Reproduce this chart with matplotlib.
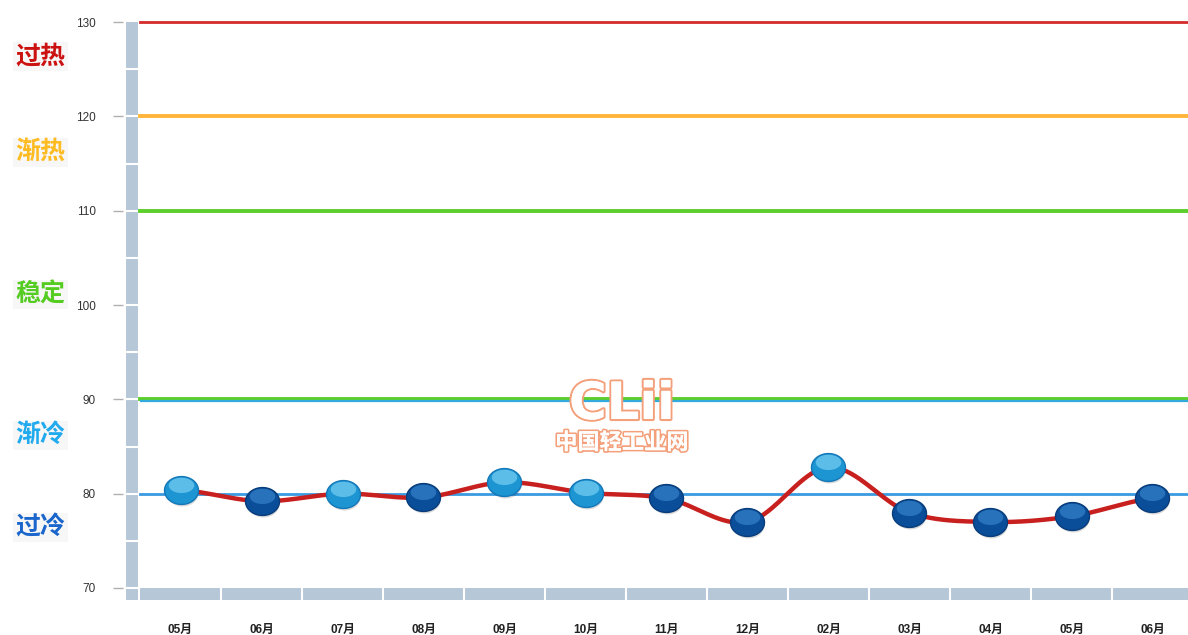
import numpy as np
import matplotlib
matplotlib.use("Agg")
import matplotlib.pyplot as plt
from matplotlib.path import Path
from matplotlib.patches import Rectangle
from matplotlib.transforms import blended_transform_factory
import matplotlib.patheffects as pe

plt.rcParams['font.family'] = ['Liberation Sans', 'Noto Sans CJK SC', 'DejaVu Sans']

# ---- data ----
months = ["05月", "06月", "07月", "08月", "09月", "10月", "11月", "12月",
          "02月", "03月", "04月", "05月", "06月"]
values = [80.4, 79.2, 80.0, 79.6, 81.2, 80.1, 79.5, 77.0, 82.8, 78.0, 77.0, 77.6, 79.5]
y_ticks = [70, 80, 90, 100, 110, 120, 130]
zone_lines = [130, 120, 110, 90, 80]
zone_line_colors = ["#d42a2a", "#ffb53a", "#5ccf2c", "#5ccf2c", "#3a9be0"]
zone_labels = ["过热", "渐热", "稳定", "渐冷", "过冷"]
zone_label_y = [126.3, 116.2, 101.1, 86.2, 76.4]
zone_label_colors = ["#cc1111", "#ffbb22", "#55cc22", "#22aaee", "#1a66cc"]
threshold = 80

W, H = 1188, 635
PT = 72.0 / 100.0  # points per pixel
fig = plt.figure(figsize=(W / 100, H / 100), dpi=100)
fig.patch.set_facecolor("white")
ax_l, ax_r, ax_b, ax_t = 140, 1188, 588, 22
ax = fig.add_axes([ax_l / W, (H - ax_b) / H, (ax_r - ax_l) / W, (ax_b - ax_t) / H])
ax.set_ylim(70, 130)
step = 81.0
ax.set_xlim(-0.5, -0.5 + (ax_r - ax_l) / step)
for s in ax.spines.values():
    s.set_visible(False)
ax.spines['left'].set_position(('outward', 17 * PT))

px_per_unit = (ax_b - ax_t) / 60.0
wall_h = 12 / px_per_unit

# ---- 3D-like wall (left) ----
bt = blended_transform_factory(ax.transAxes, ax.transData)
wx0 = (126 - ax_l) / (ax_r - ax_l)
ww = 12 / (ax_r - ax_l)
wall_col = "#b6c7d8"
ax.add_patch(Rectangle((wx0, 70 - wall_h), ww, 60 + wall_h, transform=bt,
                       facecolor=wall_col, edgecolor="none", clip_on=False, zorder=1))
for yv in np.arange(75, 130, 5).tolist() + [70]:
    ax.plot([wx0, wx0 + ww], [yv, yv], transform=bt, color="white", lw=1.5,
            clip_on=False, zorder=1.5)
# bottom bar
ax.add_patch(Rectangle((-0.5, 70 - wall_h), 14, wall_h, facecolor=wall_col,
                       edgecolor="none", clip_on=False, zorder=1))
for k in range(len(months)):
    ax.plot([k + 0.5, k + 0.5], [70 - wall_h, 70], color="white", lw=1.5,
            clip_on=False, zorder=1.5)

# ---- zone lines ----
for yv, c in zip(zone_lines, zone_line_colors):
    lw = 2.0 if yv in (130, 80) else 2.8
    ax.axhline(yv, color=c, lw=lw, zorder=2, clip_on=False)
ax.axhline(90 - 0.17, color="#33aadd", lw=1.6, zorder=2)

# ---- zone labels ----
for lab, yv, c in zip(zone_labels, zone_label_y, zone_label_colors):
    ax.text(-0.095, yv, lab, transform=bt, color=c, fontsize=18, fontweight='bold',
            family=['Noto Sans CJK SC'], ha='center', va='center', clip_on=False,
            bbox=dict(boxstyle='square,pad=0.1', facecolor='#f7f7f7', edgecolor='none'),
            zorder=5)

# ---- watermark ----
wm = ax.text(5.45, 89.4, "CLii", fontsize=37, fontweight='bold', family=['DejaVu Sans'],
             color="white", ha='center', va='center', zorder=3)
wm.set_path_effects([pe.withStroke(linewidth=3, foreground="#f4a07a"), pe.Normal()])
wm2 = ax.text(5.45, 85.4, "中国轻工业网", fontsize=16, fontweight='bold',
              family=['Noto Sans CJK SC'], color="white", ha='center', va='center', zorder=3)
wm2.set_path_effects([pe.withStroke(linewidth=2.5, foreground="#f4a07a"), pe.Normal()])

# ---- smooth line ----
xs = np.arange(len(values), dtype=float)
ys = np.array(values, dtype=float)
cx, cy = [], []
n = len(xs)
for i in range(n - 1):
    y0 = ys[i - 1] if i > 0 else ys[i]
    y3 = ys[i + 2] if i + 2 < n else ys[i + 1]
    m1 = (ys[i + 1] - y0) / 2.0
    m2 = (y3 - ys[i]) / 2.0
    t = np.linspace(0, 1, 40)
    h00 = 2 * t**3 - 3 * t**2 + 1
    h10 = t**3 - 2 * t**2 + t
    h01 = -2 * t**3 + 3 * t**2
    h11 = t**3 - t**2
    cx.extend(xs[i] + t)
    cy.extend(h00 * ys[i] + h10 * m1 + h01 * ys[i + 1] + h11 * m2)
ax.plot(cx, cy, color="#c8201e", lw=3.2, solid_capstyle='round', zorder=6)

# ---- glossy ellipse markers ----
th = np.linspace(0, 2 * np.pi, 60)
base_v = np.column_stack([np.cos(th), 0.82 * np.sin(th)])
base_path = Path(base_v, closed=True)
hl_v = np.column_stack([0.75 * np.cos(th), 0.30 + 0.45 * np.sin(th)])
hl_path = Path(hl_v, closed=True)
hl_scale = np.max(np.abs(hl_v))
sh_v = np.column_stack([0.06 + 0.95 * np.cos(th), -0.14 + 0.8 * np.sin(th)])
sh_path = Path(sh_v, closed=True)
sh_scale = np.max(np.abs(sh_v))
ms = 34 * PT

light = [v >= threshold for v in values]
for is_light in (True, False):
    xi = [i for i in range(n) if light[i] == is_light]
    yi = [values[i] for i in xi]
    if not xi:
        continue
    if is_light:
        base, edge, hl = "#1c95d2", "#1478b8", "#6cc8ee"
    else:
        base, edge, hl = "#0a4e9a", "#083c7a", "#2f7cc4"
    ax.scatter(xi, yi, s=(ms * sh_scale) ** 2, marker=sh_path, color="#000000",
               alpha=0.15, linewidths=0, zorder=7)
    ax.scatter(xi, yi, s=ms ** 2, marker=base_path, color=base, edgecolors=edge,
               linewidths=1.0, zorder=8)
    ax.scatter(xi, yi, s=(ms * hl_scale) ** 2, marker=hl_path, color=hl,
               alpha=0.8, linewidths=0, zorder=9)

# ---- ticks ----
ax.set_yticks(y_ticks)
ax.set_yticklabels([str(v) for v in y_ticks])
ax.tick_params(axis='y', direction='out', length=10 * PT, width=1, color="#b0b0b0",
               pad=17 * PT, labelsize=8.5, labelcolor="#333333")
ax.set_xticks(range(n))
ax.set_xticklabels(months)
ax.tick_params(axis='x', length=0, pad=26, labelsize=8.5, labelcolor="#222222")
for lbl in ax.get_xticklabels():
    lbl.set_fontweight('bold')
ax.set_facecolor("white")

fig.savefig("out.png", dpi=100, facecolor="white")
